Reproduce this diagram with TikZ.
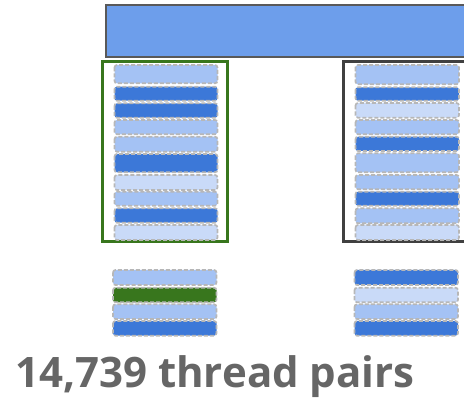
\documentclass[tikz,border=0pt]{standalone}
\usepackage{fontspec}
\setmainfont{Open Sans}
\definecolor{lite}{HTML}{A4C2F4}
\definecolor{liter}{HTML}{C9DAF8}
\definecolor{dark}{HTML}{3C78D8}
\definecolor{grn}{HTML}{38761D}
\definecolor{topb}{HTML}{6D9EEB}
\definecolor{txt}{HTML}{666666}
\definecolor{dashc}{HTML}{B7B7B7}
\begin{document}
\begin{tikzpicture}[x=1pt,y=-1pt,
  strip/.style={draw=dashc,line width=1.7pt,dash pattern=on 4pt off 2pt,rounded corners=2.5pt},
  sl/.style={strip,fill=lite},
  sr/.style={strip,fill=liter},
  sd/.style={strip,fill=dark},
  sg/.style={strip,fill=grn}]
\useasboundingbox (0,0) rectangle (464,401);
\begin{scope}
\clip (0,0) rectangle (464,401);
\draw[draw=black!65,line width=2pt,fill=topb] (106,5.5) rectangle (480,57);
\draw[draw=grn,line width=3pt] (102,62) rectangle (227.5,241.5);
\draw[draw=black!75,line width=3pt] (343,62) rectangle (480,241.5);
% left column strips
\foreach \t/\b/\s in {65/83.3/sl,86.7/100.7/sd,103.3/117.7/sd,120/134.3/sl,136.7/151.7/sl,154/172.3/sd,175/190/sr,191.7/205.7/sl,208.3/222.7/sd,225/240/sr}
  \draw[\s] (114.5,\t) rectangle (217.5,\b);
% right column strips
\foreach \t/\b/\s in {65/84.3/sl,87.3/100.7/sd,103/117.7/sr,120/134.3/sl,136.7/151/sd,153.3/172.3/sl,175/189.3/sl,191.7/205.7/sd,208.3/223.3/sl,225/240/sr}
  \draw[\s] (355.5,\t) rectangle (459,\b);
% bottom left
\foreach \t/\b/\s in {270/285/sl,287.7/302.3/sg,304.3/319/sl,321/335.7/sd}
  \draw[\s] (113,\t) rectangle (216.5,\b);
% bottom right
\foreach \t/\b/\s in {270/285/sd,287.7/302.3/sr,304.3/319/sl,321/335.7/sd}
  \draw[\s] (354.5,\t) rectangle (458,\b);
\end{scope}
\node[anchor=base west,inner sep=0pt,text=txt,font=\fontsize{42}{45}\selectfont\bfseries] (lbl) at (15,388) {14,739 thread pairs};
\end{tikzpicture}
\end{document}
